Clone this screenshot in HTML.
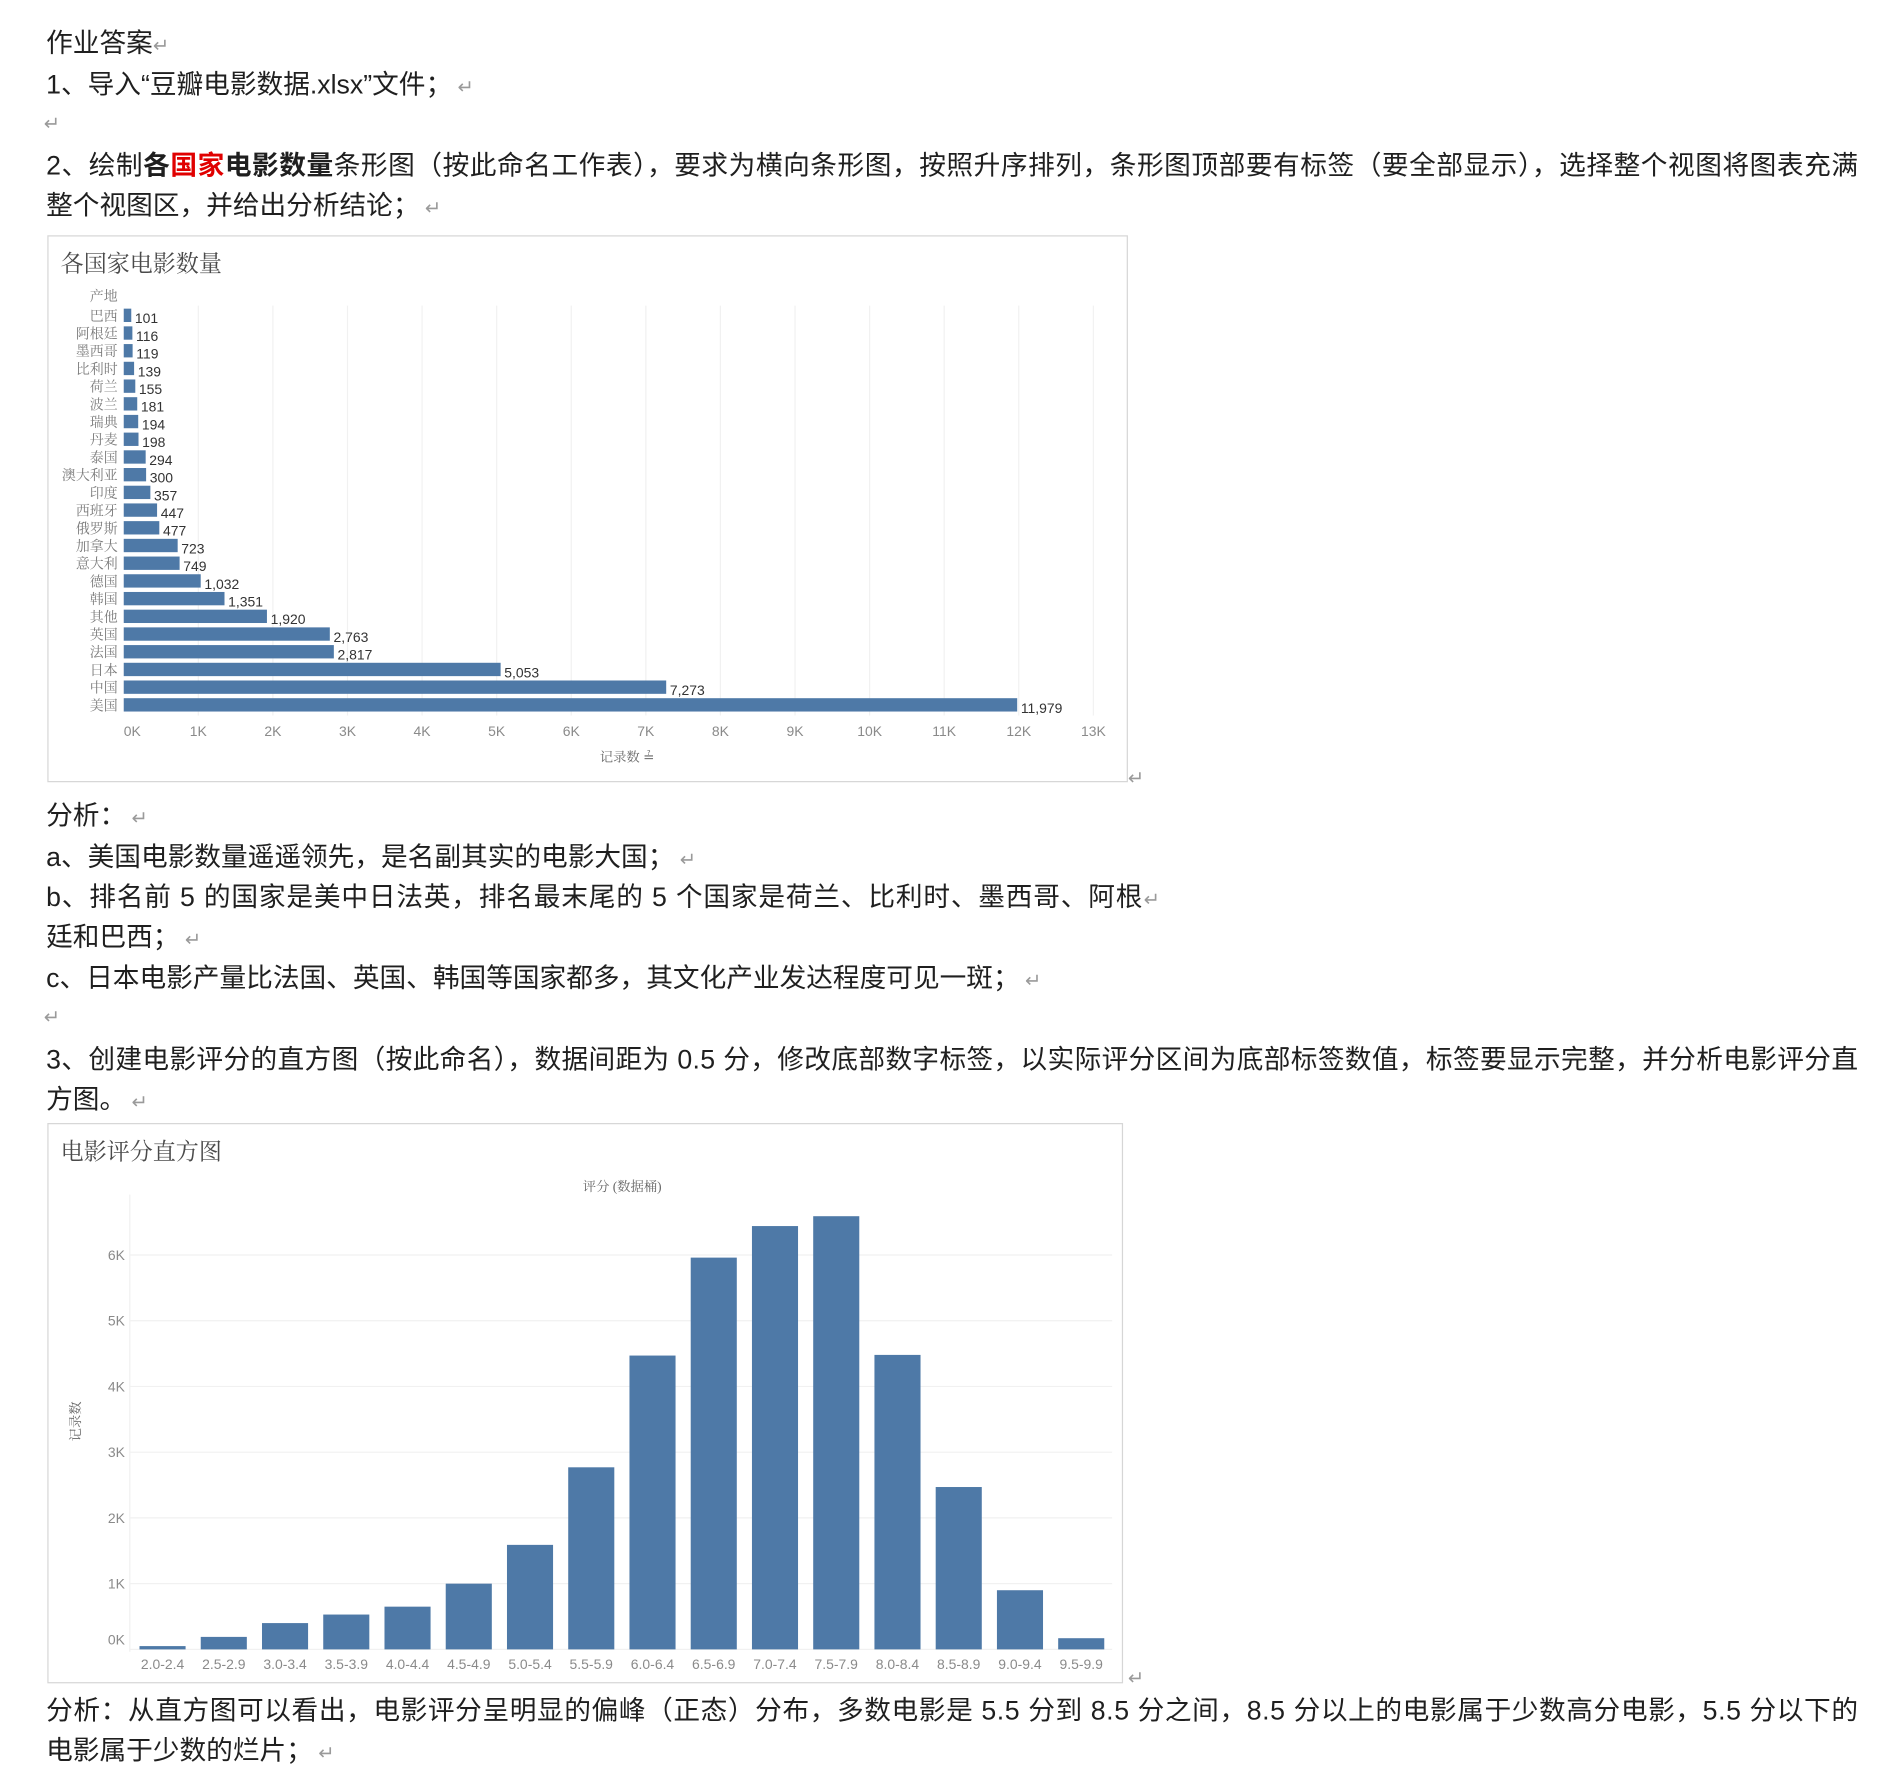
<!DOCTYPE html>
<html><head><meta charset="utf-8">
<style>
html,body{margin:0;padding:0;background:#fff;}
svg{display:block;}
.t{font-family:"Liberation Sans","Noto Sans CJK SC",sans-serif;font-size:22px;fill:#1f1f1f;}
.r{fill:#9a9a9a;font-size:16px;font-family:"Liberation Sans","Noto Sans CJK SC",sans-serif;}
.ct{font-family:"Liberation Serif","Noto Serif CJK SC",serif;font-size:19px;fill:#4a4a4a;}
.cat{font-family:"Liberation Serif","Noto Serif CJK SC",serif;font-size:11.5px;fill:#7a7a7a;}
.val{font-family:"Liberation Sans","Noto Sans CJK SC",sans-serif;font-size:11.5px;fill:#333;}
.tick{font-family:"Liberation Sans",sans-serif;font-size:11.5px;fill:#8a8a8a;}
.ax{font-family:"Liberation Serif","Noto Serif CJK SC",serif;font-size:11px;fill:#666;}
</style></head>
<body>
<svg id="page" width="1892" height="1784" viewBox="0 0 1560 1471" xmlns="http://www.w3.org/2000/svg">
<g>
<text class="t" x="38" y="43">作业答案<tspan class="r">↵</tspan></text>
<text class="t" x="38" y="77">1、导入“豆瓣电影数据.xlsx”文件；<tspan class="r"> ↵</tspan></text>
<text class="r" x="36" y="107">↵</text>
<text class="t" x="38" y="144" textLength="1494" lengthAdjust="spacing">2、绘制<tspan font-weight="bold">各</tspan><tspan font-weight="bold" fill="#e00000">国家</tspan><tspan font-weight="bold">电影数量</tspan>条形图（按此命名工作表），要求为横向条形图，按照升序排列，条形图顶部要有标签（要全部显示），选择整个视图将图表充满</text>
<text class="t" x="38" y="177">整个视图区，并给出分析结论；<tspan class="r"> ↵</tspan></text>
</g>

<g>
<rect x="39.5" y="194.5" width="890" height="450" fill="#fff" stroke="#d6d6d6"/>
<text class="ct" x="50" y="224">各国家电影数量</text>
<text class="cat" x="97" y="248" text-anchor="end">产地</text>
<g id="barGrid"></g>
<g id="bars"></g>
<g id="xticks"></g>
<text class="ax" x="517" y="628" text-anchor="middle">记录数 ≟</text>
</g>
<text class="r" x="930" y="647">↵</text>

<g>
<text class="t" x="38" y="680">分析：<tspan class="r"> ↵</tspan></text>
<text class="t" x="38" y="714">a、美国电影数量遥遥领先，是名副其实的电影大国；<tspan class="r"> ↵</tspan></text>
<text class="t" x="38" y="747" textLength="904" lengthAdjust="spacing">b、排名前 5 的国家是美中日法英，排名最末尾的 5 个国家是荷兰、比利时、墨西哥、阿根</text>
<text class="r" x="943" y="747">↵</text>
<text class="t" x="38" y="780">廷和巴西；<tspan class="r"> ↵</tspan></text>
<text class="t" x="38" y="814">c、日本电影产量比法国、英国、韩国等国家都多，其文化产业发达程度可见一斑；<tspan class="r"> ↵</tspan></text>
<text class="r" x="36" y="844">↵</text>
<text class="t" x="38" y="881" textLength="1494" lengthAdjust="spacing">3、创建电影评分的直方图（按此命名），数据间距为 0.5 分，修改底部数字标签，以实际评分区间为底部标签数值，标签要显示完整，并分析电影评分直</text>
<text class="t" x="38" y="914">方图。<tspan class="r"> ↵</tspan></text>
</g>

<g>
<rect x="39.5" y="926.5" width="886" height="461" fill="#fff" stroke="#d6d6d6"/>
<text class="ct" x="50" y="956">电影评分直方图</text>
<text class="ax" x="513" y="982" text-anchor="middle">评分 (数据桶)</text>
<line x1="107" y1="985" x2="107" y2="1362" stroke="#f0f0f0"/>
<g id="hgrid"></g>
<g id="hbars"></g>
<g id="hxl"></g>
<text class="ax" x="0" y="0" transform="translate(66,1172) rotate(-90)" text-anchor="middle">记录数</text>
</g>
<text class="r" x="930" y="1389">↵</text>

<text class="t" x="38" y="1418" textLength="1494" lengthAdjust="spacing">分析：从直方图可以看出，电影评分呈明显的偏峰（正态）分布，多数电影是 5.5 分到 8.5 分之间，8.5 分以上的电影属于少数高分电影，5.5 分以下的</text>
<text class="t" x="38" y="1451">电影属于少数的烂片；<tspan class="r"> ↵</tspan></text>
</svg>
<script>
var countries = ["巴西","阿根廷","墨西哥","比利时","荷兰","波兰","瑞典","丹麦","泰国","澳大利亚","印度","西班牙","俄罗斯","加拿大","意大利","德国","韩国","其他","英国","法国","日本","中国","美国"];
var counts = [101,116,119,139,155,181,194,198,294,300,357,447,477,723,749,1032,1351,1920,2763,2817,5053,7273,11979];
var xTickValues = [0,1000,2000,3000,4000,5000,6000,7000,8000,9000,10000,11000,12000,13000];
var xTickLabels = ["0K","1K","2K","3K","4K","5K","6K","7K","8K","9K","10K","11K","12K","13K"];

var bins = ["2.0-2.4","2.5-2.9","3.0-3.4","3.5-3.9","4.0-4.4","4.5-4.9","5.0-5.4","5.5-5.9","6.0-6.4","6.5-6.9","7.0-7.4","7.5-7.9","8.0-8.4","8.5-8.9","9.0-9.4","9.5-9.9"];
var binCounts = [50,190,400,530,650,1000,1590,2770,4470,5960,6440,6590,4480,2470,900,170];
var yTickValues = [0,1000,2000,3000,4000,5000,6000];
var yTickLabels = ["0K","1K","2K","3K","4K","5K","6K"];

var NS = "http://www.w3.org/2000/svg";
function mk(tag, attrs, parent){var e=document.createElementNS(NS,tag);for(var k in attrs)e.setAttribute(k,attrs[k]);parent.appendChild(e);return e;}
function fmt(n){return n.toLocaleString("en-US");}

function xs(v){return 102 + v*(738/12000);}
function ys(i){return 254.5 + i*14.6;}
var gGrid=document.getElementById("barGrid"), gBars=document.getElementById("bars"), gX=document.getElementById("xticks");
xTickValues.forEach(function(v,i){
  if(i>0){var l=mk("line",{x1:xs(v),x2:xs(v),y1:252,y2:590,stroke:"#f1f1f1"},gGrid);
  
  }
  var t=mk("text",{x:(i==0?109:xs(v)),y:607,"class":"tick","text-anchor":"middle"},gX);
  t.textContent=xTickLabels[i];
  
  
});
countries.forEach(function(c,i){
  var y=ys(i);
  var lab=mk("text",{x:97,y:y+10,"class":"cat","text-anchor":"end"},gBars);
  lab.textContent=c;
  
  
  var r=mk("rect",{x:102,y:y,width:xs(counts[i])-102,height:11,fill:"#4e79a7"},gBars);
  
  
  var v=mk("text",{x:xs(counts[i])+3,y:y+12,"class":"val"},gBars);
  v.textContent=fmt(counts[i]);
  
  
});

function hy(v){return 1360 - v*(54.2/1000);}
function hx(i){return 115 + i*50.5;}
var hg=document.getElementById("hgrid"), hb=document.getElementById("hbars"), hl=document.getElementById("hxl");
yTickValues.forEach(function(v,i){
  var l=mk("line",{x1:107,x2:917,y1:hy(v),y2:hy(v),stroke:"#f1f1f1"},hg);
  
  
  var t=mk("text",{x:103,y:(i==0?1356:hy(v)+4),"class":"tick","text-anchor":"end"},hg);
  t.textContent=yTickLabels[i];
  
  
});
bins.forEach(function(b,i){
  var r=mk("rect",{x:hx(i),y:hy(binCounts[i]),width:38,height:1360-hy(binCounts[i]),fill:"#4e79a7"},hb);
  
  
  var t=mk("text",{x:hx(i)+19,y:1376,"class":"tick","text-anchor":"middle"},hl);
  t.textContent=b;
  
  
});
</script>
</body></html>
